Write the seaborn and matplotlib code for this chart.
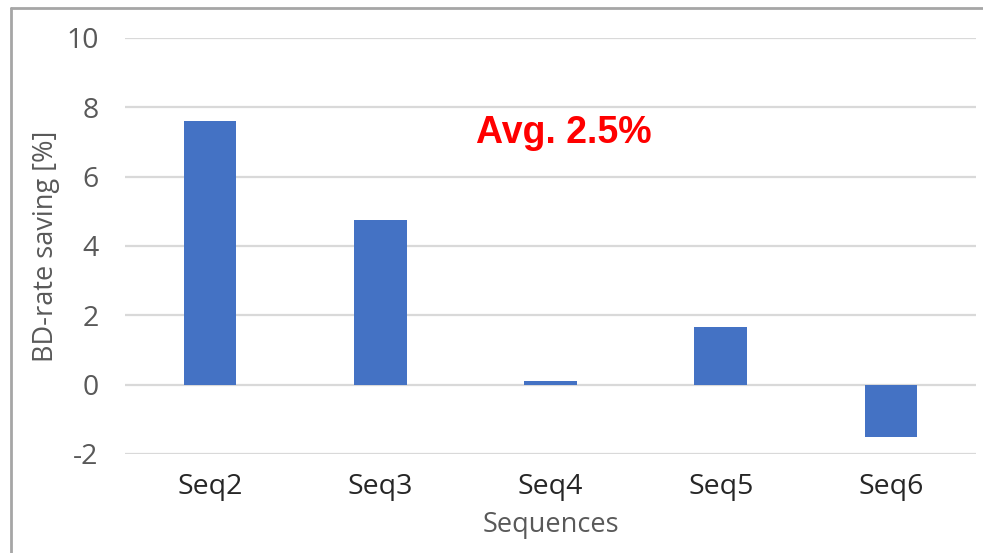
import matplotlib
matplotlib.use("Agg")
import matplotlib.pyplot as plt
from matplotlib.lines import Line2D
import seaborn as sns
import pandas as pd

# BD-rate saving per test sequence
sequences = ["Seq2", "Seq3", "Seq4", "Seq5", "Seq6"]
bd_rate_saving = [7.62, 4.76, 0.12, 1.65, -1.50]
y_ticks = [-2, 0, 2, 4, 6, 8, 10]
avg_label = "Avg. 2.5%"

df = pd.DataFrame({"Sequences": sequences, "BD-rate saving [%]": bd_rate_saving})

sns.set_theme(style="white")
plt.rcParams["font.family"] = ["Open Sans", "DejaVu Sans"]

W, H = 983, 553
fig = plt.figure(figsize=(W / 100, H / 100), dpi=100)
ax = fig.add_axes([125 / W, 1 - 454 / H, (976 - 125) / W, (454 - 38) / H])

sns.barplot(data=df, x="Sequences", y="BD-rate saving [%]", color="#4472C4",
            saturation=1, width=0.31, linewidth=0, ax=ax, zorder=3)

ax.set_xlim(-0.5, len(sequences) - 0.5)
ax.set_ylim(-2, 10)
ax.set_yticks(y_ticks)
ax.set_yticklabels([str(t) for t in y_ticks])
ax.yaxis.grid(True, color="#D9D9D9", linewidth=1.6, zorder=0)
ax.set_axisbelow(True)
for s in ax.spines.values():
    s.set_visible(False)

ax.tick_params(axis="y", labelsize=20.5, labelcolor="#595959", length=0, pad=19)
ax.tick_params(axis="x", labelsize=20.5, labelcolor="#262626", length=0, pad=14)
ax.set_xlabel("Sequences", fontsize=19.5, color="#595959", labelpad=7)
ax.set_ylabel("BD-rate saving [%]", fontsize=19.5, color="#595959")
ax.yaxis.set_label_coords(-0.076, 0.5)

ax.text(2.08, 7.25, avg_label, color="#FF0000", fontsize=27, fontweight="bold",
        family=["Liberation Sans", "DejaVu Sans"], ha="center", va="center")

# chart frame: left and top edges
frame_color = "#A6A6A6"
fig.add_artist(Line2D([10.5 / W, 10.5 / W], [0, 1 - 7.5 / H], color=frame_color,
                      linewidth=2, transform=fig.transFigure))
fig.add_artist(Line2D([10.5 / W, 1], [1 - 7.5 / H, 1 - 7.5 / H], color=frame_color,
                      linewidth=2, transform=fig.transFigure))

fig.savefig("out.png", dpi=100)
